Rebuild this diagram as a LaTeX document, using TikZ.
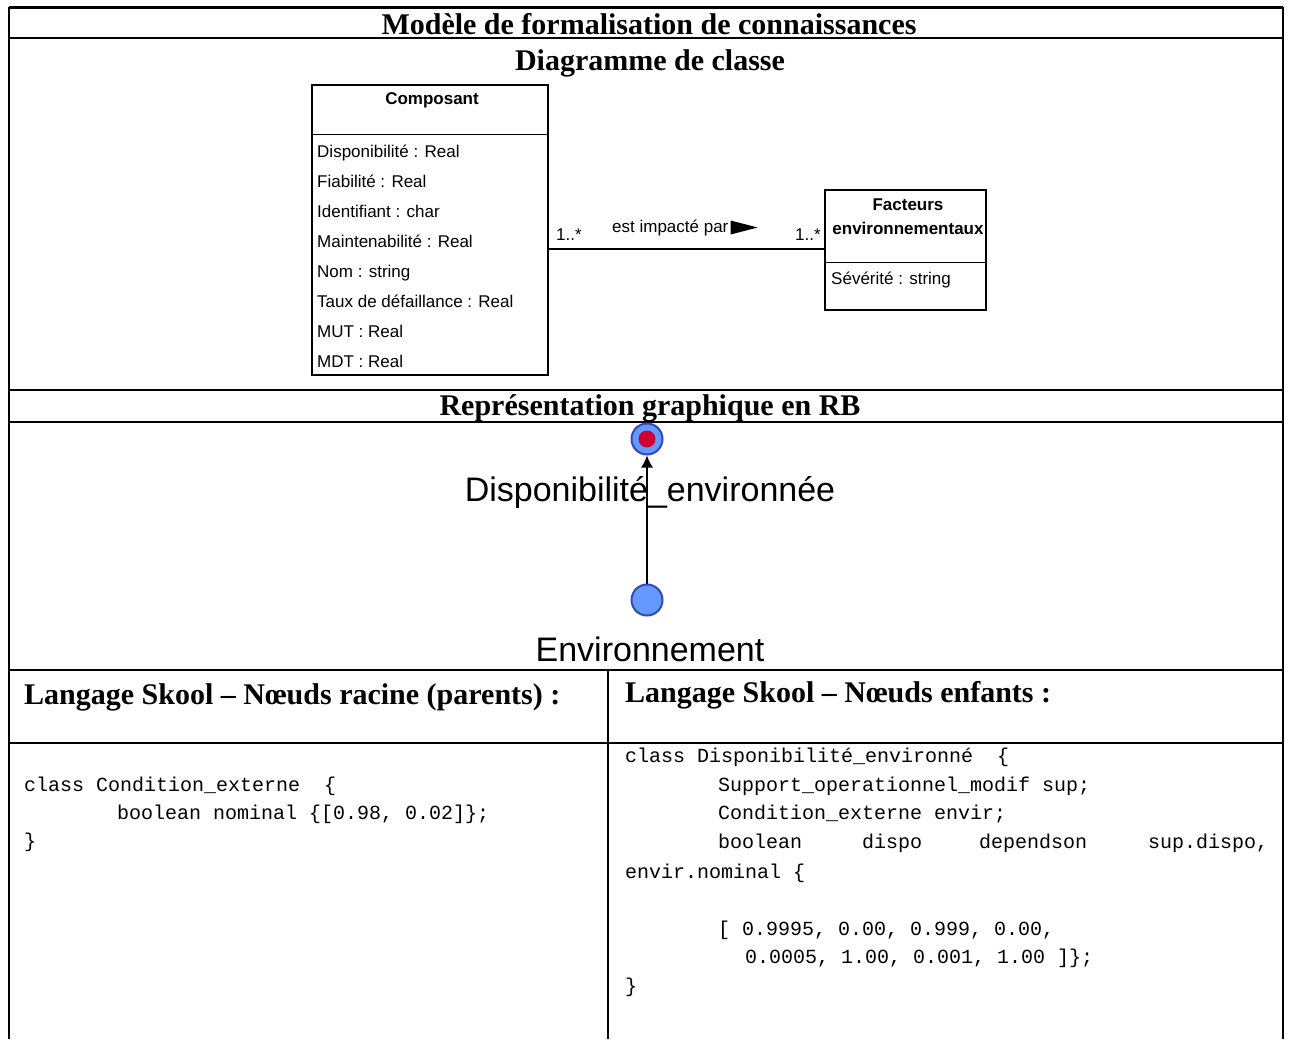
\documentclass[tikz,border=0pt]{standalone}
\usepackage{fontspec}
\setmainfont{Liberation Serif}
\setmonofont{Liberation Mono}
\newfontfamily\umlfont{Liberation Sans}
\usepackage{xcolor}
\usetikzlibrary{arrows.meta,positioning}

\definecolor{rbblue}{HTML}{6699FF}
\definecolor{rbedge}{HTML}{3347B8}
\definecolor{rbred}{HTML}{CC0033}

\begin{document}
\begin{tikzpicture}[
    x=1pt, y=-1pt,
    heading/.style={
        font=\fontsize{30}{34}\selectfont\bfseries,
        inner sep=0pt,
        anchor=base
    },
    colhead/.style={
        heading,
        anchor=base west
    },
    umlbox/.style={
        draw,
        line width=1.2pt,
        inner sep=0pt
    },
    umltitle/.style={
        font=\umlfont\fontsize{17}{20}\selectfont\bfseries,
        inner sep=0pt,
        anchor=base,
        align=center
    },
    attr/.style={
        font=\umlfont\fontsize{17}{20}\selectfont,
        inner sep=0pt,
        anchor=base west
    },
    rbvar/.style={
        circle,
        draw=rbedge,
        fill=rbblue,
        line width=2pt,
        minimum size=31pt,
        inner sep=0pt
    },
    rblabel/.style={
        font=\umlfont\fontsize{34}{40}\selectfont,
        inner sep=0pt,
        anchor=base
    },
    code/.style={
        font=\ttfamily\fontsize{20}{24}\selectfont,
        inner sep=0pt,
        anchor=base west
    },
    rule/.style={
        line width=2pt
    }
]
\useasboundingbox (0,0) rectangle (1292,1039);

% Table frame
\draw[line width=3pt] (9,7) -- (1283,7);
\draw[rule] (9,7) -- (9,1039);
\draw[rule] (1283,7) -- (1283,1039);
\draw[rule] (9,38) -- (1283,38);
\draw[rule] (9,390) -- (1283,390);
\draw[rule] (9,422) -- (1283,422);
\draw[rule] (9,670) -- (1283,670);
\draw[rule] (9,743) -- (1283,743);
\draw[rule] (608,670) -- (608,1039);

% Headings
\node[heading] (title) at (649,34) {Modèle de formalisation de connaissances};
\node[heading] (diagtitle) at (650,70) {Diagramme de classe};
\node[heading] (rbtitle) at (650,415) {Représentation graphique en RB};
\node[colhead] (roothead) at (24,704) {Langage Skool -- Nœuds racine (parents) :};
\node[colhead] (childhead) at (625,702) {Langage Skool -- Nœuds enfants :};

% Class Composant
\node[umlbox, minimum width=236pt, minimum height=290pt] (comp) at (430,230) {};
\draw[line width=1.2pt] (comp.north west) ++(0,50) -- ++(236,0);
\node[umltitle] (compname) at (432,104) {Composant};
\foreach \att [count=\i from 0] in {Disponibilité : Real, Fiabilité : Real,
    Identifiant : char, Maintenabilité : Real, Nom : string,
    Taux de défaillance : Real, MUT : Real, MDT : Real}
    \node[attr] (att\i) at (317,157+30*\i) {\att};

% Class Facteurs environnementaux
\node[umlbox, minimum width=161pt, minimum height=120pt] (fact) at (905.5,250) {};
\draw[line width=1.2pt] (fact.north west) ++(0,73) -- ++(161,0);
\node[umltitle] (factname1) at (908,210) {Facteurs};
\node[umltitle] (factname2) at (908,234) {environnementaux};
\node[attr] (severite) at (831,284) {Sévérité : string};

% Association
\coordinate (assoc) at (0,249);
\draw[line width=1.2pt] (comp.east |- assoc) -- (fact.west |- assoc);
\node[attr] (multleft) at (556,240) {1..*};
\node[attr] (multright) at (795,240) {1..*};
\node[attr] (assoclabel) at (612,232) {est impacté par};
\fill (assoclabel.east) ++(2,-7) -- ++(0,14) -- ++(27,-7) -- cycle;

% Bayesian network
\node[rbvar] (dispo) at (647,439) {};
\fill[rbred] (dispo.center) circle (8.5);
\node[rbvar] (envnode) at (647,600) {};
\node[rblabel] (dispolabel) at (650,501) {Disponibilité\_environnée};
\node[rblabel] (envlabel) at (650,661) {Environnement};
\draw[-{Latex[length=12pt,width=12pt]}, line width=1.2pt] (envnode) -- (dispo);

% Skool code, root nodes
\node[code] (rc1) at (24,791) {class Condition\_externe\ \ \{};
\node[code] (rc2) at (117,819) {boolean nominal \{[0.98, 0.02]\};};
\node[code] (rc3) at (24,847) {\}};

% Skool code, child nodes
\node[code] (cc1) at (625,762) {class Disponibilité\_environné\ \ \{};
\node[code] (cc2) at (718,791) {Support\_operationnel\_modif sup;};
\node[code] (cc3) at (718,819) {Condition\_externe envir;};
\node[code] (cc4a) at (718,848) {boolean};
\node[code] (cc4b) at (862,848) {dispo};
\node[code] (cc4c) at (979,848) {dependson};
\node[code] (cc4d) at (1148,848) {sup.dispo,};
\node[code] (cc5) at (625,878) {envir.nominal \{};
\node[code] (cc6) at (718,935) {[ 0.9995, 0.00, 0.999, 0.00,};
\node[code] (cc7) at (745,963) {0.0005, 1.00, 0.001, 1.00 ]\};};
\node[code] (cc8) at (625,992) {\}};

\end{tikzpicture}
\end{document}
